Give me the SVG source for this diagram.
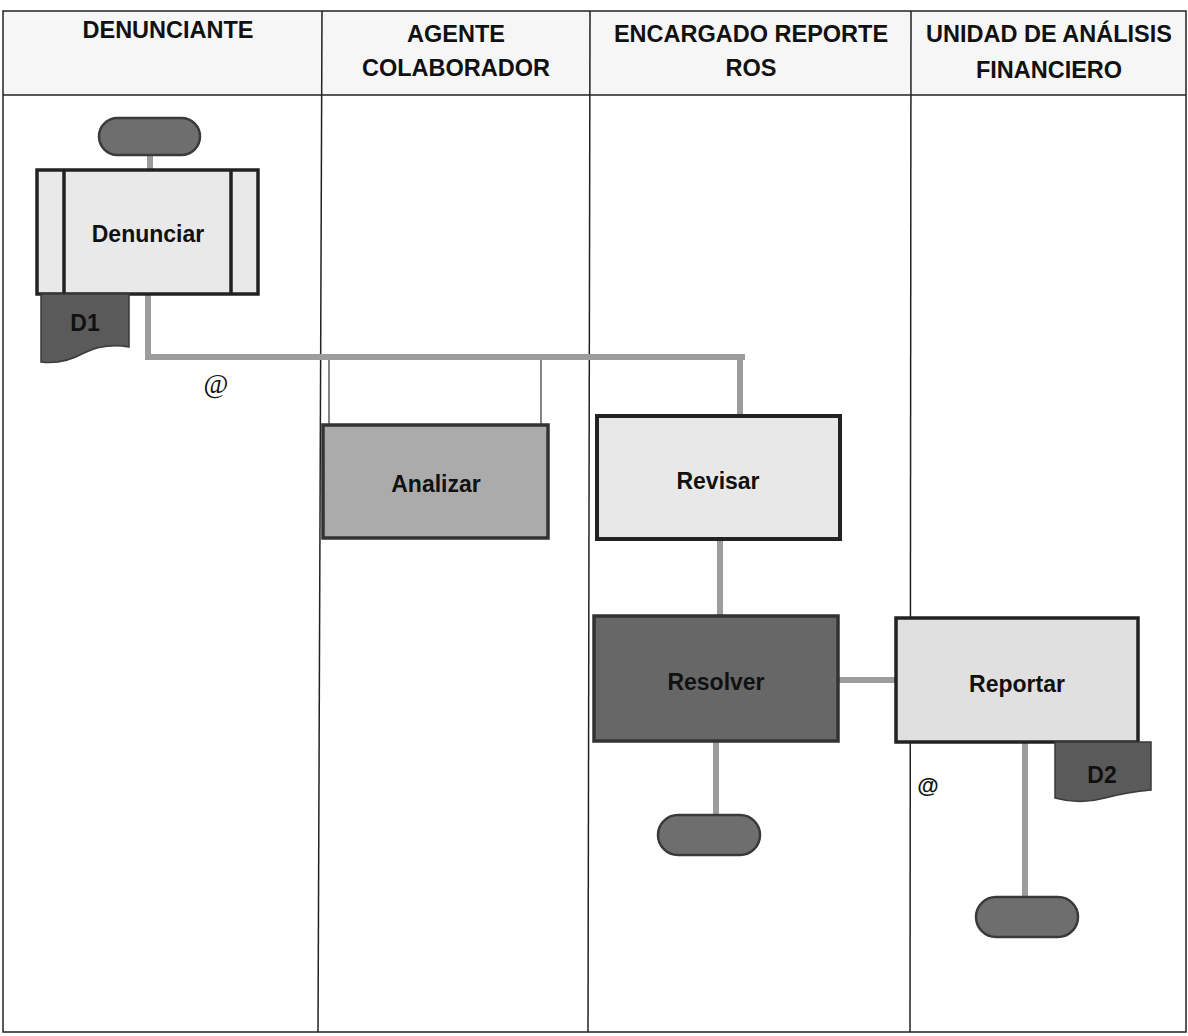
<svg xmlns="http://www.w3.org/2000/svg" width="1188" height="1036" viewBox="0 0 1188 1036">
<style>
.hdr{font-family:"Liberation Sans",Arial,sans-serif;font-weight:bold;font-size:23.5px;fill:#111;text-anchor:middle}
.lbl{font-family:"Liberation Sans",Arial,sans-serif;font-weight:bold;font-size:23px;fill:#111;text-anchor:middle}
.grid{stroke:#222;stroke-width:1.5;fill:none}
.conn{stroke:#9c9c9c;stroke-width:6;fill:none}
.thin{stroke:#333;stroke-width:1.2;fill:none}
.pill{fill:#6e6e6e;stroke:#3a3a3a;stroke-width:2.5}
.doc{fill:#5a5a5a;stroke:#3a3a3a;stroke-width:1.5}
</style>
<rect width="1188" height="1036" fill="#fff"/>
<g id="table">
<rect x="3" y="11" width="1183" height="84" fill="#f6f6f6"/>
<rect x="3" y="11" width="1183" height="1021" class="grid"/>
<line x1="3" y1="95" x2="1186" y2="95" class="grid"/>
<line x1="322" y1="11" x2="318" y2="1032" class="grid"/>
<line x1="590" y1="11" x2="588" y2="1032" class="grid"/>
<line x1="911" y1="11" x2="910" y2="1032" class="grid"/>
<text class="hdr" x="168" y="38">DENUNCIANTE</text>
<text class="hdr" x="456" y="42">AGENTE</text>
<text class="hdr" x="456" y="76">COLABORADOR</text>
<text class="hdr" x="751" y="42">ENCARGADO REPORTE</text>
<text class="hdr" x="751" y="76">ROS</text>
<text class="hdr" x="1049" y="42">UNIDAD DE ANÁLISIS</text>
<text class="hdr" x="1049" y="78">FINANCIERO</text>
</g>
<g id="connectors">
<line x1="150" y1="155" x2="150" y2="170" class="conn"/>
<polyline points="148,294 148,357 745,357" class="conn"/>
<line x1="740" y1="357" x2="740" y2="416" class="conn"/>
<line x1="329" y1="360" x2="329" y2="425" class="thin"/>
<line x1="541" y1="360" x2="541" y2="425" class="thin"/>
<line x1="720" y1="539" x2="720" y2="616" class="conn"/>
<line x1="838" y1="680" x2="896" y2="680" class="conn" stroke-width="8"/>
<line x1="716" y1="741" x2="716" y2="815" class="conn"/>
<line x1="1025" y1="742" x2="1025" y2="898" class="conn"/>
</g>
<g id="start">
<rect x="99" y="118" width="101" height="37" rx="18.5" class="pill"/>
</g>
<g id="denunciar">
<rect x="37" y="170" width="221" height="124" fill="#e9e9e9" stroke="#222" stroke-width="3.5"/>
<line x1="64" y1="170" x2="64" y2="294" stroke="#222" stroke-width="3.5"/>
<line x1="231" y1="170" x2="231" y2="294" stroke="#222" stroke-width="3.5"/>
<text class="lbl" x="148" y="242" font-size="22">Denunciar</text>
</g>
<g id="d1">
<path d="M41,294 H129 V347 Q104,343 84,353 Q62,365 41,362 Z" class="doc"/>
<text class="lbl" x="85" y="331" font-size="22">D1</text>
</g>
<g id="at1">
<text x="216" y="393" font-family="Liberation Serif,serif" font-size="27" fill="#111" text-anchor="middle">@</text>
</g>
<g id="analizar">
<rect x="323" y="425" width="225" height="113" fill="#ababab" stroke="#333" stroke-width="3.5"/>
<text class="lbl" x="436" y="492">Analizar</text>
</g>
<g id="revisar">
<rect x="597" y="416" width="243" height="123" fill="#e8e8e8" stroke="#222" stroke-width="4"/>
<text class="lbl" x="718" y="489" font-size="24">Revisar</text>
</g>
<g id="resolver">
<rect x="594" y="616" width="244" height="125" fill="#676767" stroke="#333" stroke-width="3.5"/>
<text class="lbl" x="716" y="690" font-size="25">Resolver</text>
</g>
<g id="reportar">
<rect x="896" y="618" width="242" height="124" fill="#e0e0e0" stroke="#222" stroke-width="3.5"/>
<text class="lbl" x="1017" y="692" font-size="25">Reportar</text>
</g>
<g id="d2">
<path d="M1055,742 H1151 V790 Q1128,792 1105,798 Q1080,805 1055,798 Z" class="doc"/>
<text class="lbl" x="1102" y="783" font-size="22">D2</text>
</g>
<g id="at2">
<text x="928" y="793" font-family="Liberation Sans,Arial,sans-serif" font-weight="bold" font-size="22" fill="#111" text-anchor="middle">@</text>
</g>
<g id="end1">
<rect x="658" y="815" width="102" height="40" rx="20" class="pill"/>
</g>
<g id="end2">
<rect x="976" y="897" width="102" height="40" rx="20" class="pill"/>
</g>
</svg>
